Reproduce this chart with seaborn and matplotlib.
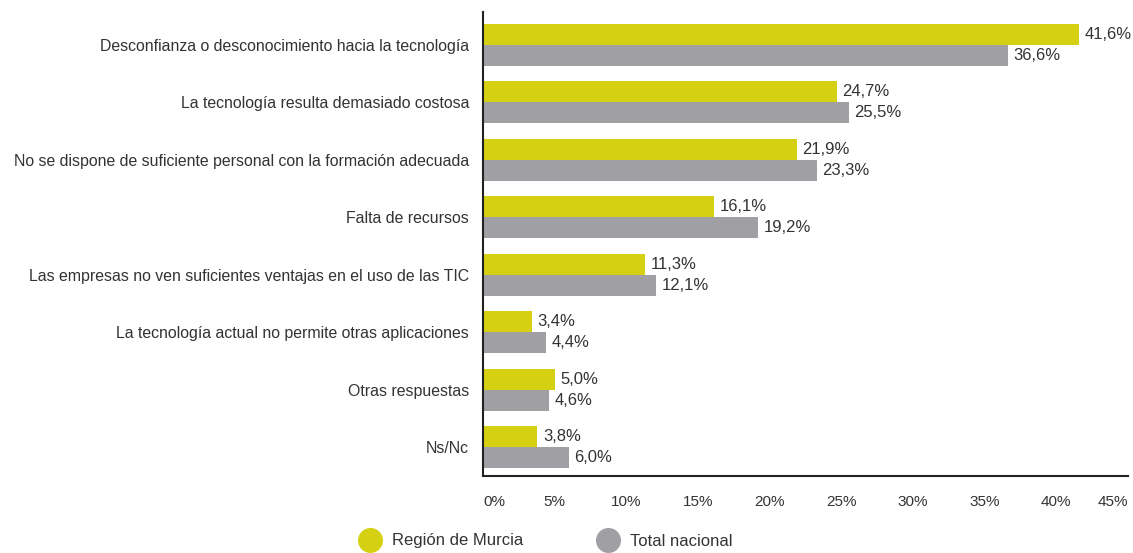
import pandas as pd
import seaborn as sns
import matplotlib.pyplot as plt
from matplotlib.lines import Line2D

# datos
categorias = [
    "Desconfianza o desconocimiento hacia la tecnología",
    "La tecnología resulta demasiado costosa",
    "No se dispone de suficiente personal con la formación adecuada",
    "Falta de recursos",
    "Las empresas no ven suficientes ventajas en el uso de las TIC",
    "La tecnología actual no permite otras aplicaciones",
    "Otras respuestas",
    "Ns/Nc",
]
murcia = [41.6, 24.7, 21.9, 16.1, 11.3, 3.4, 5.0, 3.8]
nacional = [36.6, 25.5, 23.3, 19.2, 12.1, 4.4, 4.6, 6.0]
series = ["Región de Murcia", "Total nacional"]
colores = ["#d5d112", "#a0a0a4"]
ticks = [0, 5, 10, 15, 20, 25, 30, 35, 40, 45]

df = pd.DataFrame({
    "categoria": categorias * 2,
    "valor": murcia + nacional,
    "serie": [series[0]] * len(categorias) + [series[1]] * len(categorias),
})

sns.set_style("white")
plt.rcParams['font.family'] = ['Liberation Sans', 'DejaVu Sans']
texto = "#333333"

fig = plt.figure(figsize=(11.33, 5.53), dpi=100)
ax = fig.add_axes([483 / 1133, 1 - 476 / 553, (1128 - 483) / 1133, (476 - 12) / 553])

sns.barplot(data=df, y="categoria", x="valor", hue="serie", orient="h",
            palette=colores, width=0.73, saturation=1, linewidth=0, ax=ax, legend=False)

for cont, vals in zip(ax.containers, [murcia, nacional]):
    ax.bar_label(cont, labels=[f"{v:.1f}%".replace(".", ",") for v in vals],
                 padding=4, fontsize=12, color=texto)

ax.set_xlim(0, 45)
ax.set_ylim(7.5, -0.574)
ax.set_xticks(ticks)
ax.set_xticklabels([f"{t}%" for t in ticks], fontsize=11, color=texto)
lbls = ax.get_xticklabels()
lbls[0].set_ha("left")
lbls[-1].set_ha("right")
ax.tick_params(axis="x", length=0, pad=14)
ax.tick_params(axis="y", length=0, pad=10, labelsize=11.4, labelcolor=texto)
ax.set_xlabel("")
ax.set_ylabel("")

for s in ["top", "right"]:
    ax.spines[s].set_visible(False)
for s in ["left", "bottom"]:
    ax.spines[s].set_color("#222222")
    ax.spines[s].set_linewidth(1.5)

handles = [Line2D([], [], marker="o", linestyle="", markersize=17,
                  markerfacecolor=c, markeredgecolor=c) for c in colores]
fig.legend(handles, series, loc="center", bbox_to_anchor=(543 / 1133, 1 - 541 / 553),
           ncol=2, frameon=False, fontsize=12, columnspacing=4.1, handletextpad=0.3,
           labelcolor=texto)

fig.savefig("out.png", dpi=100)
